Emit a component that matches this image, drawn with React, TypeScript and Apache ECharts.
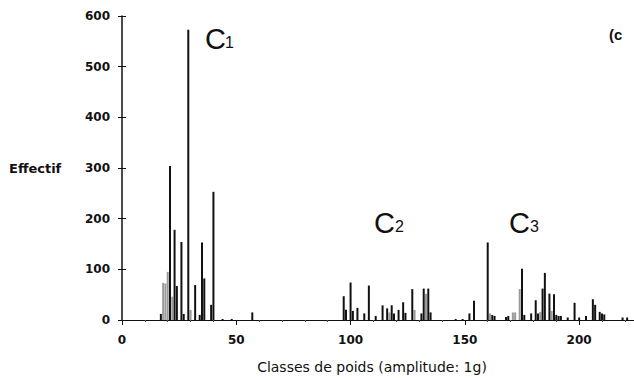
import React, { useEffect, useRef } from "react";
import * as echarts from "echarts";

// Weight classes (g) and counts — solid black bars
const blackClasses = [
  17, 21, 23, 24, 26, 27, 29, 32, 34, 35, 36, 39, 40, 44, 48, 57,
  97, 98, 100, 101, 103, 106, 108, 111, 114, 116, 118, 119, 121, 123, 124, 127, 131, 132, 134, 135,
  146, 149, 152, 154,
  160, 162, 163, 168, 169, 175, 176, 179, 181, 182, 184, 185, 187, 189, 190, 191, 192, 195, 198, 200, 203,
  206, 207, 209, 210, 211, 219, 221,
];
const blackCounts = [
  12, 304, 178, 67, 154, 12, 573, 69, 10, 153, 82, 30, 253, 2, 2, 15,
  47, 20, 74, 18, 24, 13, 68, 8, 29, 23, 29, 13, 20, 35, 14, 61, 13, 62, 62, 15,
  2, 2, 13, 38,
  153, 10, 8, 6, 8, 101, 10, 13, 39, 13, 62, 93, 52, 51, 10, 8, 8, 5, 34, 5, 8,
  41, 30, 16, 13, 11, 5, 5,
];

// Stippled (grey) bars
const greyClasses = [18, 19, 20, 22, 30, 117, 128, 133, 161, 171, 172, 174, 183, 188];
const greyCounts = [73, 72, 95, 46, 20, 15, 20, 52, 13, 15, 15, 61, 16, 18];

const xTicks = [0, 50, 100, 150, 200];
const yTicks = [0, 100, 200, 300, 400, 500, 600];

const tickFont = { fontFamily: "DejaVu Sans", fontWeight: "bold" as const, fontSize: 12, color: "#111" };

export default function App() {
  const ref = useRef<HTMLDivElement>(null);
  useEffect(() => {
    if (!ref.current) return;
    const chart = echarts.init(ref.current, undefined, { renderer: "svg" });
    const black = blackClasses.map((c, i) => [c, blackCounts[i]]);
    const grey = greyClasses.map((c, i) => [c, greyCounts[i]]);
    const cLabel = (x: number, y: number, sub: string, subX: number) => [
      { type: "text", x, y, style: { text: "C", font: "29px 'Liberation Sans'", fill: "#111", verticalAlign: "middle" } },
      { type: "text", x: subX, y: y + 4, style: { text: sub, font: "16px 'Liberation Sans'", fill: "#111", verticalAlign: "middle" } },
    ];
    chart.setOption({
      animation: false,
      backgroundColor: "#fff",
      grid: { left: 122, right: 0, top: 16, bottom: 58 },
      xAxis: [
        {
          type: "value",
          min: 0,
          max: 224,
          interval: 50,
          axisLine: { show: true, lineStyle: { color: "#111", width: 1 } },
          axisTick: { show: true, length: 5, lineStyle: { color: "#111" } },
          minorTick: { show: true, splitNumber: 5, length: 2, lineStyle: { color: "#555" } },
          splitLine: { show: false },
          axisLabel: {
            ...tickFont,
            margin: 14,
            showMaxLabel: false,
            formatter: (v: number) => (xTicks.includes(v) ? String(v) : ""),
          },
        },
      ],
      yAxis: [
        {
          type: "value",
          min: 0,
          max: 600,
          interval: 100,
          axisLine: { show: true, lineStyle: { color: "#111", width: 1.5 } },
          axisTick: { show: true, length: 4, lineStyle: { color: "#111" } },
          splitLine: { show: false },
          axisLabel: {
            ...tickFont,
            margin: 12,
            formatter: (v: number) => (yTicks.includes(v) ? String(v) : ""),
          },
        },
        {
          type: "value",
          min: 0,
          max: 600,
          interval: 100,
          position: "left",
          axisLine: { show: false },
          axisTick: { show: true, inside: true, length: 4, lineStyle: { color: "#111" } },
          axisLabel: { show: false },
          splitLine: { show: false },
        },
      ],
      series: [
        {
          type: "bar",
          data: grey,
          barWidth: 2,
          barGap: "-100%",
          itemStyle: { color: "#9a9a9a" },
        },
        {
          type: "bar",
          data: black,
          barWidth: 2,
          barGap: "-100%",
          itemStyle: { color: "#111" },
        },
      ],
      graphic: [
        { type: "text", x: 9, y: 168, style: { text: "Effectif", font: "bold 13px 'DejaVu Sans'", fill: "#111", verticalAlign: "middle" } },
        { type: "text", x: 372, y: 367, style: { text: "Classes de poids (amplitude: 1g)", font: "14px 'DejaVu Sans'", fill: "#111", align: "center", verticalAlign: "middle" } },
        { type: "text", x: 609, y: 34, style: { text: "(c", font: "bold 15px 'Liberation Sans'", fill: "#111", verticalAlign: "middle" } },
        ...cLabel(205, 38.5, "1", 225),
        ...cLabel(374, 222.5, "2", 395),
        ...cLabel(509, 222.5, "3", 530),
      ],
    });
    return () => chart.dispose();
  }, []);
  return <div ref={ref} style={{ position: "fixed", left: 0, top: 0, width: 634, height: 378 }} />;
}
